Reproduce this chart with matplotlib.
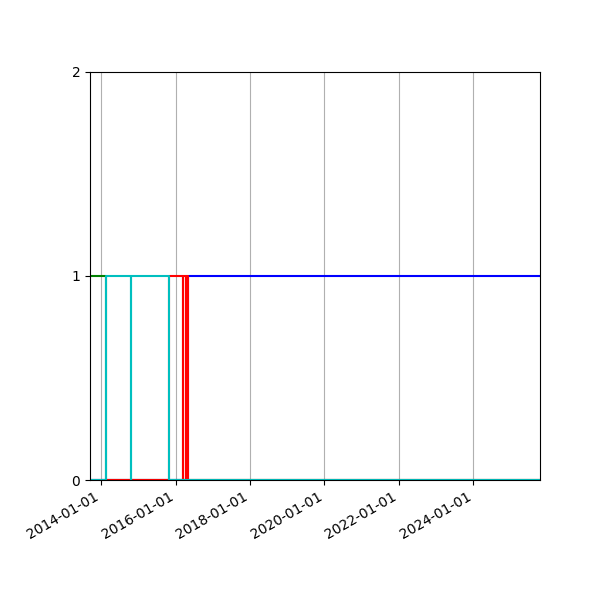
import numpy as np
import pandas as pd
import matplotlib
matplotlib.use('Agg')
import matplotlib.pyplot as plt
import matplotlib.dates as mdates

# Change dates for each state series (step, where='post')
green_dates = ['2013-09-12', '2014-02-16', '2025-10-17']
green_vals = [1, 0, 0]

blue_dates = ['2013-09-12', '2016-05-03', '2025-10-17']
blue_vals = [0, 1, 1]

red_dates = ['2013-09-12', '2015-10-30', '2016-03-12', '2016-03-13',
             '2016-04-07', '2016-04-08', '2016-05-03', '2025-10-17']
red_vals = [0, 1, 0, 1, 0, 1, 0, 0]

cyan_dates = ['2013-09-12', '2014-02-16', '2014-10-17', '2014-10-19',
              '2015-10-30', '2025-10-17']
cyan_vals = [0, 1, 0, 1, 0, 0]

tick_dates = ['2014-01-01', '2016-01-01', '2018-01-01', '2020-01-01',
              '2022-01-01', '2024-01-01']

fig = plt.figure(figsize=(6, 6), dpi=100)
ax = fig.add_axes([0.15, 0.2, 0.75, 0.68])

# draw order matters: cyan ends up on top
ax.step(pd.to_datetime(green_dates), green_vals, where='post', color='g')
ax.step(pd.to_datetime(blue_dates), blue_vals, where='post', color='b')
ax.step(pd.to_datetime(red_dates), red_vals, where='post', color='r')
ax.step(pd.to_datetime(cyan_dates), cyan_vals, where='post', color='c')

ax.set_xlim(pd.Timestamp(green_dates[0]), pd.Timestamp(green_dates[-1]))
ax.set_ylim(0, 2)
ax.set_yticks([0, 1, 2])

ax.set_xticks(pd.to_datetime(tick_dates))
ax.xaxis.set_major_formatter(mdates.DateFormatter('%Y-%m-%d'))
for lbl in ax.get_xticklabels():
    lbl.set_rotation(30)
    lbl.set_ha('right')

ax.xaxis.grid(True)

fig.savefig('out.png', dpi=100)
